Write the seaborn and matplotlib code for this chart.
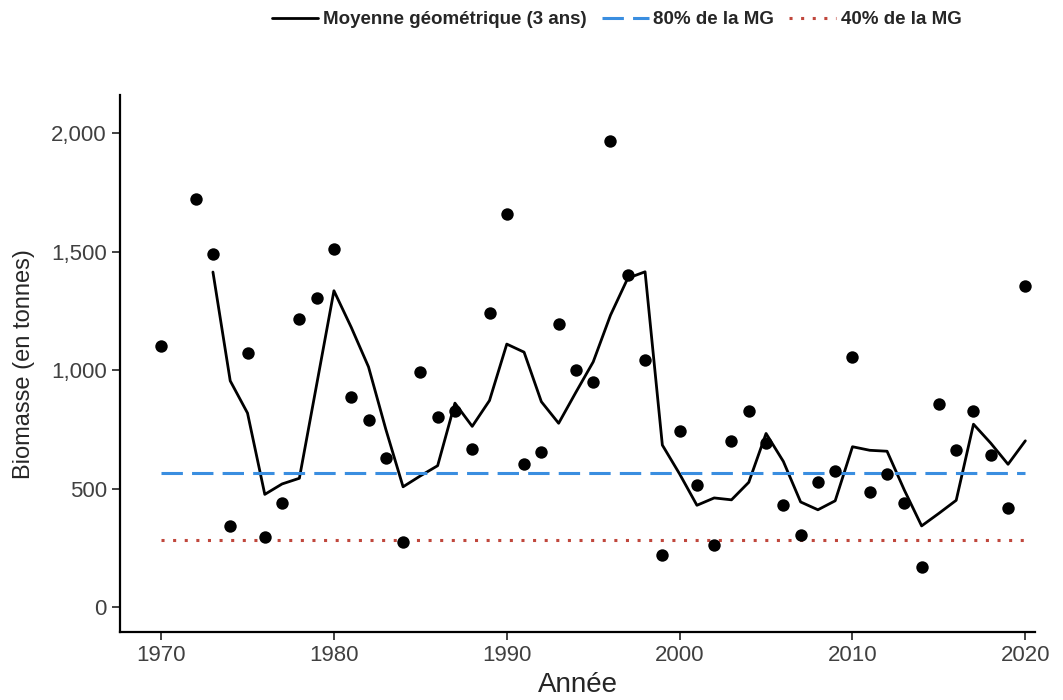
import matplotlib
matplotlib.use('Agg')
from matplotlib import pyplot as plt
from matplotlib.ticker import FuncFormatter
import pandas as pd
import seaborn as sns

# Annual biomass estimates (tonnes); 1971 has no estimate
years = [1970, 1972, 1973, 1974, 1975, 1976, 1977, 1978, 1979, 1980,
         1981, 1982, 1983, 1984, 1985, 1986, 1987, 1988, 1989, 1990,
         1991, 1992, 1993, 1994, 1995, 1996, 1997, 1998, 1999, 2000,
         2001, 2002, 2003, 2004, 2005, 2006, 2007, 2008, 2009, 2010,
         2011, 2012, 2013, 2014, 2015, 2016, 2017, 2018, 2019, 2020]
biomass = [1100, 1720, 1492, 341, 1073, 298, 441, 1215, 1304, 1512,
           885, 790, 628, 273, 993, 802, 826, 666, 1243, 1659,
           606, 653, 1194, 1002, 952, 1965, 1402, 1042, 219, 742,
           514, 261, 702, 828, 693, 431, 304, 529, 575, 1055,
           488, 563, 440, 168, 857, 665, 826, 642, 418, 1355]

# 3-year geometric mean
gm_years = list(range(1973, 2021))
gm_values = [1414, 955, 819, 476, 520, 544, 939, 1335, 1181, 1014,
             751, 508, 554, 597, 861, 763, 872, 1110, 1076, 867,
             776, 907, 1035, 1232, 1388, 1415, 684, 562, 430, 461,
             453, 527, 733, 615, 444, 411, 449, 677, 662, 658,
             494, 343, 396, 451, 772, 692, 603, 702]

# reference levels
ref_years = [1970, 2020]
ref80 = [565, 565]
ref40 = [282, 282]

df_pts = pd.DataFrame({'Année': years, 'Biomasse': biomass})
df_gm = pd.DataFrame({'Année': gm_years, 'Biomasse': gm_values})
df_80 = pd.DataFrame({'Année': ref_years, 'Biomasse': ref80})
df_40 = pd.DataFrame({'Année': ref_years, 'Biomasse': ref40})

sns.set_style('ticks')
plt.rcParams['font.family'] = ['Liberation Sans', 'DejaVu Sans']

fig = plt.figure(figsize=(10.63, 7.0), dpi=100)
ax = fig.add_axes([0.113, 0.097, 0.861, 0.767])

sns.lineplot(data=df_gm, x='Année', y='Biomasse', ax=ax, color='black',
             linewidth=2.0, label='Moyenne géométrique (3 ans)')
sns.lineplot(data=df_80, x='Année', y='Biomasse', ax=ax, color='#3a8ee0',
             linewidth=2.2, dashes=(7, 3), label='80% de la MG')
sns.lineplot(data=df_40, x='Année', y='Biomasse', ax=ax, color='#c0473c',
             linewidth=2.2, label='40% de la MG')
ax.lines[-1].set_linestyle((0, (1, 2.8)))
sns.scatterplot(data=df_pts, x='Année', y='Biomasse', ax=ax, color='black',
                s=80, edgecolor='black', linewidth=0, zorder=5, legend=False)

ax.set_xlim(1967.63, 2020.58)
ax.set_ylim(-105, 2160)
ax.set_xticks([1970, 1980, 1990, 2000, 2010, 2020])
ax.set_yticks([0, 500, 1000, 1500, 2000])
ax.yaxis.set_major_formatter(FuncFormatter(lambda v, p: f'{int(v):,}'))
ax.tick_params(axis='both', labelsize=16, labelcolor='#404040',
               length=6, width=1.3, color='#333333')
for s in ['left', 'bottom']:
    ax.spines[s].set_linewidth(1.6)
    ax.spines[s].set_color('black')
sns.despine(ax=ax)

ax.set_xlabel('Année', fontsize=20, labelpad=4)
ax.set_ylabel('Biomasse (en tonnes)', fontsize=17, labelpad=12)

handles, labels = ax.get_legend_handles_labels()
ax.legend_.remove()
fig.legend(handles, labels, loc='upper center', bbox_to_anchor=(0.58, 1.008),
           ncol=3, frameon=False, handlelength=2.5, handletextpad=0.25,
           columnspacing=0.8, prop={'weight': 'bold', 'size': 13.5,
                                    'family': ['Liberation Sans Narrow', 'Liberation Sans']})

fig.savefig('out.png', dpi=100)
